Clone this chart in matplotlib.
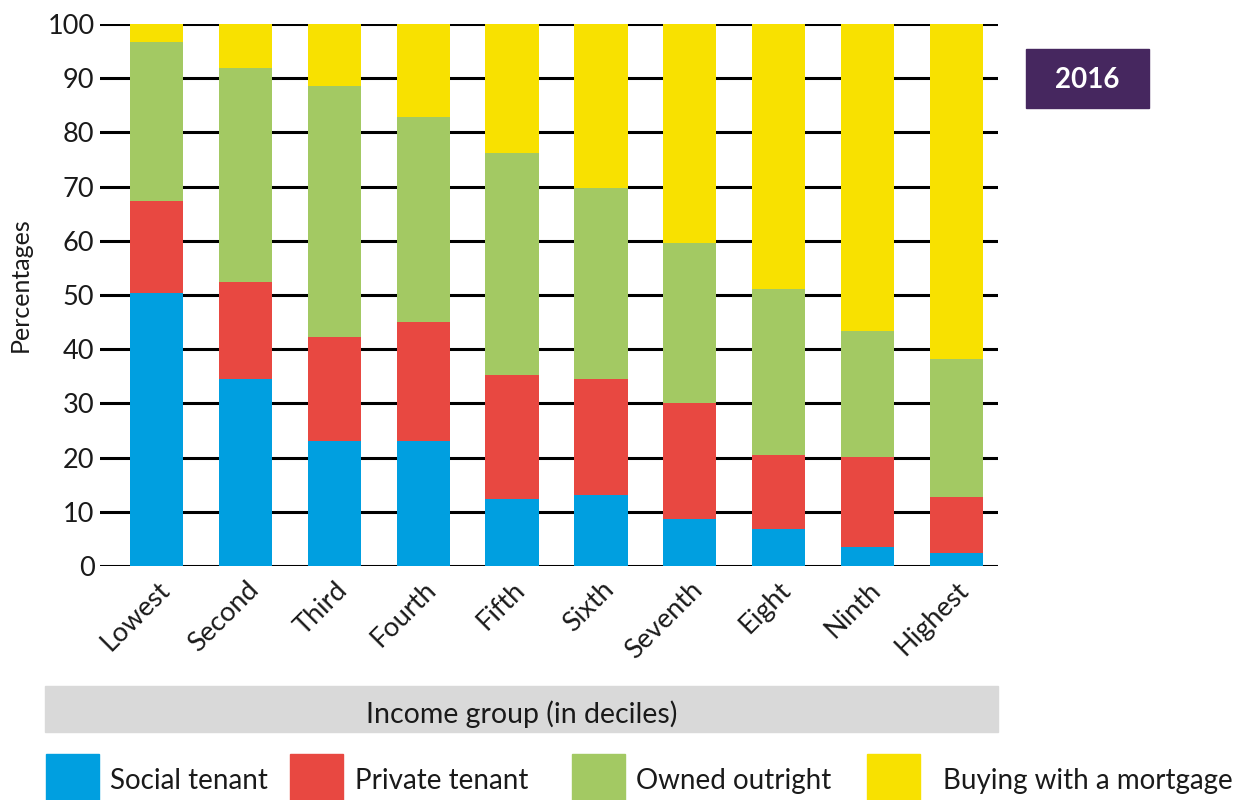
import numpy as np
import matplotlib
matplotlib.use("Agg")
import matplotlib.pyplot as plt
from matplotlib.patches import Rectangle

plt.rcParams['font.family'] = ['Lato', 'DejaVu Sans']

# Income deciles and tenure shares (percent)
groups = ['Lowest', 'Second', 'Third', 'Fourth', 'Fifth',
          'Sixth', 'Seventh', 'Eight', 'Ninth', 'Highest']
social = [50.4, 34.5, 23.1, 23.1, 12.4, 13.1, 8.7, 6.8, 3.5, 2.4]
private = [16.9, 17.9, 19.2, 21.9, 22.8, 21.4, 21.4, 13.7, 16.6, 10.3]
owned = [29.4, 39.5, 46.3, 37.8, 41.0, 35.2, 29.5, 30.6, 23.3, 25.5]
mortgage = [3.3, 8.1, 11.4, 17.2, 23.8, 30.3, 40.4, 48.9, 56.6, 61.8]

series = [('Social tenant', social, '#009FE0'),
          ('Private tenant', private, '#E84841'),
          ('Owned outright', owned, '#A3C963'),
          ('Buying with a mortgage', mortgage, '#F8E100')]

W, H = 1237, 800
fig = plt.figure(figsize=(W / 100, H / 100), dpi=100)
ax = fig.add_axes([100 / W, 1 - 566 / H, 898 / W, 542 / H])

x = np.arange(len(groups))
bottom = np.zeros(len(groups))
for name, vals, col in series:
    ax.bar(x, vals, width=0.6, bottom=bottom, color=col, zorder=2)
    bottom += np.array(vals)

ax.set_xlim(-0.64, 9.47)
ax.set_ylim(0, 100)
ax.set_yticks(range(0, 101, 10))
ax.yaxis.grid(True, color='black', linewidth=2.2, zorder=1)
ax.set_axisbelow(True)
for s in ax.spines.values():
    s.set_visible(False)
ax.tick_params(axis='y', length=0, pad=4, labelsize=19.5, colors='#1a1a1a')
ax.tick_params(axis='x', length=0, pad=8)
ax.set_xticks(x)
ax.set_xticklabels(groups, rotation=45, ha='right', rotation_mode='anchor',
                   fontsize=19.5, color='#1a1a1a')
ax.set_ylabel('Percentages', fontsize=18, color='#1a1a1a')
ax.yaxis.set_label_coords(-0.076, 0.52)

# x-axis title band
fig.patches.append(Rectangle((45 / W, 1 - 732 / H), 953 / W, 46 / H,
                             transform=fig.transFigure, color='#D9D9D9'))
fig.text(522 / W, 1 - 714 / H, 'Income group (in deciles)', ha='center',
         va='center', fontsize=20.5, color='#1a1a1a')

# year badge
fig.patches.append(Rectangle((1026 / W, 1 - 108 / H), 123 / W, 59 / H,
                             transform=fig.transFigure, color='#46275F'))
fig.text(1087 / W, 1 - 80 / H, '2016', ha='center', va='center',
         fontsize=20, color='white', fontweight='bold')

# legend
sq_x = [46, 290, 572, 867]
txt_x = [110, 355, 636, 943]
for (name, vals, col), sx, tx in zip(series, sq_x, txt_x):
    fig.patches.append(Rectangle((sx / W, 0), 53 / W, 46 / H,
                                 transform=fig.transFigure, color=col))
    fig.text(tx / W, 1 - 781 / H, name, ha='left', va='center',
             fontsize=20, color='#1a1a1a')

fig.savefig('out.png', dpi=100)
